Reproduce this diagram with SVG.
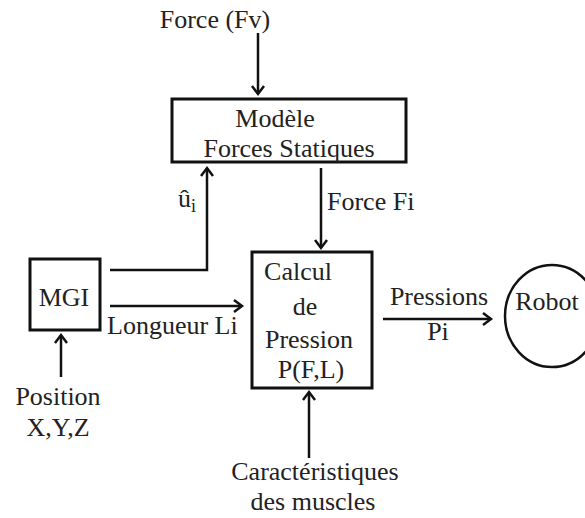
<svg xmlns="http://www.w3.org/2000/svg" width="585" height="518" viewBox="0 0 585 518">
<style>
text{font-family:'Liberation Serif','DejaVu Serif','Noto Serif',serif;font-size:26px;fill:#222}
.box{fill:#fff;stroke:#111;stroke-width:3}
.ln{fill:none;stroke:#111;stroke-width:2.5}
</style>
<defs>
<marker id="ah" markerWidth="14" markerHeight="14" refX="10" refY="7" orient="auto" markerUnits="userSpaceOnUse">
<path d="M2,1 L10,7 L2,13" fill="none" stroke="#111" stroke-width="2.5"/>
</marker>
</defs>
<rect width="585" height="518" fill="#fff"/>
<g id="connectors">
<line class="ln" x1="258" y1="33" x2="258" y2="94" marker-end="url(#ah)"/>
<polyline class="ln" points="110,270 207,270 207,168" marker-end="url(#ah)"/>
<line class="ln" x1="321" y1="168" x2="321" y2="248" marker-end="url(#ah)"/>
<line class="ln" x1="110" y1="306" x2="242" y2="306" marker-end="url(#ah)"/>
<line class="ln" x1="61" y1="377" x2="61" y2="335" marker-end="url(#ah)"/>
<line class="ln" x1="383" y1="319" x2="491" y2="319" marker-end="url(#ah)"/>
<line class="ln" x1="309" y1="458" x2="309" y2="392" marker-end="url(#ah)"/>
<text x="327" y="210">Force Fi</text>
<text x="178" y="207">û<tspan font-size="18" dy="5">i</tspan></text>
<text x="107" y="334">Longueur Li</text>
<text x="439" y="305" text-anchor="middle">Pressions</text>
<text x="438" y="340" text-anchor="middle">Pi</text>
</g>
<g id="force-fv"><text x="215" y="28" text-anchor="middle">Force  (Fv)</text></g>
<g id="modele">
<rect class="box" x="172" y="99" width="234" height="63"/>
<text x="275" y="127" text-anchor="middle">Modèle</text>
<text x="289" y="157" text-anchor="middle">Forces Statiques</text>
</g>
<g id="mgi">
<rect class="box" x="30" y="259" width="70" height="71"/>
<text x="64" y="306" text-anchor="middle">MGI</text>
</g>
<g id="position">
<text x="58" y="405" text-anchor="middle">Position</text>
<text x="58" y="436" text-anchor="middle">X,Y,Z</text>
</g>
<g id="calcul">
<rect class="box" x="252" y="252" width="120" height="136"/>
<text x="298" y="280" text-anchor="middle">Calcul</text>
<text x="305" y="315" text-anchor="middle">de</text>
<text x="309" y="348" text-anchor="middle">Pression</text>
<text x="311" y="378" text-anchor="middle">P(F,L)</text>
</g>
<g id="robot">
<ellipse cx="552" cy="316" rx="47" ry="51" fill="none" stroke="#111" stroke-width="2.5"/>
<text x="547" y="310" text-anchor="middle">Robot</text>
</g>
<g id="muscles">
<text x="315" y="480" text-anchor="middle">Caractéristiques</text>
<text x="313" y="510" text-anchor="middle">des muscles</text>
</g>
</svg>
